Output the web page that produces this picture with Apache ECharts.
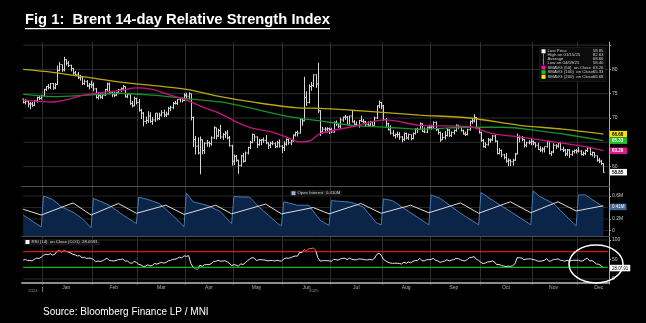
<!DOCTYPE html>
<html><head><meta charset="utf-8">
<script src="https://cdn.jsdelivr.net/npm/echarts@6/dist/echarts.min.js"></script>
<style>html,body{margin:0;padding:0;background:#000;}#c{width:646px;height:323px;}</style>
</head><body><div id="c"></div>
<script>
// ---------------- DATA ----------------
const startDate = '2024-12-17';
const endDate = '2025-12-18';          // two empty trailing slots
const holidays = ['2024-12-25','2024-12-26','2025-01-01','2025-04-18'];
const monthNames = ['Jan','Feb','Mar','Apr','May','Jun','Jul','Aug','Sep','Oct','Nov','Dec'];

const openP = [
73.9,73.2,73.4,72.9,72.9,72.6,73.6,74.2,74.0,
74.6,75.9,76.5,76.3,77.1,76.2,76.9,79.8,81.0,79.9,82.0,81.3,80.8,80.2,79.3,79.0,78.3,78.5,77.1,77.5,76.6,76.9,
76.8,76.0,74.2,74.6,74.3,74.7,75.9,77.0,75.2,75.0,74.7,75.2,75.8,76.0,76.5,74.4,74.8,73.0,72.5,74.0,
73.2,71.6,71.0,69.3,69.5,70.4,69.3,69.6,71.0,69.9,70.6,71.1,70.6,70.8,72.0,72.2,73.0,73.0,73.8,74.0,73.6,
74.7,74.5,75.0,70.1,65.6,64.2,62.8,65.5,63.3,64.8,64.9,64.7,65.9,68.0,66.3,67.4,66.1,66.6,66.9,65.9,64.3,
61.1,62.1,61.3,60.2,62.2,61.1,62.8,63.9,65.0,66.6,66.1,64.5,65.4,65.5,65.4,64.9,64.4,64.8,64.7,64.1,64.9,64.2,
63.9,64.6,65.6,64.9,65.3,66.5,67.0,66.9,69.8,69.4,74.2,73.2,76.5,76.7,78.9,77.0,71.5,67.1,67.7,67.7,67.8,
67.6,67.1,69.1,68.8,68.3,69.6,70.2,70.2,68.6,70.4,69.2,68.7,68.5,69.5,69.3,69.2,68.6,68.5,69.2,68.4,70.0,72.5,73.2,
72.5,69.7,68.8,67.6,66.9,66.4,66.6,66.6,66.1,65.6,66.8,65.9,66.6,65.8,66.8,67.7,67.7,68.8,67.2,67.1,68.1,
68.1,68.2,69.1,67.6,67.0,65.5,66.0,66.4,67.5,66.4,67.0,67.4,68.5,68.2,67.4,66.7,66.6,67.6,69.3,69.4,70.1,68.0,
67.0,65.4,64.1,64.5,65.5,65.5,66.3,65.2,62.7,63.3,62.4,61.9,61.1,61.3,61.0,61.3,62.6,66.0,65.9,65.6,64.4,64.9,65.0,
65.1,64.9,64.4,63.5,63.4,63.6,64.1,65.2,62.7,63.0,64.4,64.2,64.9,63.5,63.4,62.6,63.4,62.5,63.1,63.3,
63.2,63.2,62.5,62.7,63.3,63.8,62.5,62.9,62.2,61.3,61.1,60.6];
const highP = [
74.0,73.9,73.6,73.3,73.3,73.7,74.4,74.6,74.8,
76.0,76.6,77.0,77.2,77.2,77.2,80.8,81.5,81.0,82.6,82.1,81.7,81.0,80.3,79.7,79.5,78.9,78.6,77.9,77.8,77.2,77.7,
77.3,76.2,75.3,75.1,75.1,76.0,77.3,77.3,75.6,75.4,75.4,76.0,76.3,76.8,76.5,75.1,74.8,73.5,74.4,74.2,
73.9,71.9,71.2,70.3,71.4,71.2,70.2,71.0,71.0,71.1,71.6,71.7,71.3,72.3,72.5,73.3,73.5,73.9,74.2,74.2,75.1,
75.2,75.3,75.0,70.3,66.3,66.0,66.2,65.6,65.0,65.5,65.2,66.2,68.3,68.0,67.8,68.6,66.9,67.3,67.5,66.3,64.5,
62.5,62.4,61.4,62.4,62.8,63.1,64.1,65.3,66.8,66.6,66.2,65.7,65.7,66.0,66.5,65.0,65.1,65.3,65.0,65.3,65.6,64.4,
65.2,65.8,65.8,65.6,66.6,67.2,67.4,70.0,70.0,78.5,75.5,76.9,77.4,79.0,79.0,81.4,71.6,68.2,68.1,68.1,68.0,
68.0,69.3,69.5,69.0,70.1,70.3,70.6,70.4,70.5,71.5,69.6,69.3,69.6,70.5,69.8,69.4,69.3,69.4,69.4,70.3,72.6,73.6,73.3,
72.7,70.0,69.0,68.5,67.5,66.8,67.2,67.1,66.3,67.0,67.0,66.8,66.6,67.0,67.9,68.0,69.1,68.9,68.1,68.2,68.6,
68.6,69.3,69.3,67.9,67.2,66.9,67.3,67.9,67.7,67.2,67.6,68.7,68.6,68.3,67.6,67.2,67.8,69.5,69.8,70.8,70.2,68.1,
67.2,65.7,65.0,65.9,65.8,66.5,66.6,65.4,63.8,63.5,62.6,62.8,61.7,61.5,61.6,62.8,66.8,66.4,66.3,65.7,65.1,65.4,65.7,
65.4,65.0,64.9,64.2,64.0,64.1,65.3,65.3,63.2,64.8,64.6,65.0,65.1,64.1,63.6,63.6,63.6,63.3,63.5,63.6,
64.0,63.4,63.1,63.5,64.1,63.9,63.1,63.0,62.3,61.8,61.4,60.7];
const lowP = [
73.0,72.8,72.2,71.8,72.3,72.5,73.2,73.7,73.8,
74.4,75.6,75.9,75.9,75.8,75.9,76.8,79.6,79.5,79.6,80.8,80.5,79.6,78.9,78.6,78.0,77.7,76.8,76.8,76.4,75.9,76.2,
75.5,74.0,73.8,74.0,73.9,74.5,75.5,74.9,74.3,74.3,74.5,74.9,75.4,75.7,74.2,74.1,72.7,72.2,72.4,72.8,
71.3,69.8,68.3,68.8,69.0,69.0,68.6,69.2,69.5,69.6,70.3,70.2,70.2,70.6,71.4,71.8,72.8,72.7,73.2,73.2,73.5,
74.1,73.8,69.5,64.0,62.5,62.5,58.4,62.5,62.6,64.1,64.0,64.3,65.7,65.6,66.1,65.7,65.5,65.9,65.6,64.1,60.2,
60.3,61.0,58.5,60.0,60.8,61.0,62.5,63.6,64.8,65.2,63.8,64.3,64.4,64.9,64.6,63.6,63.8,64.4,63.8,63.9,63.9,62.8,
63.2,64.3,64.5,64.4,65.1,66.2,66.2,66.8,68.4,69.4,72.5,73.0,75.6,76.4,76.2,71.0,66.3,66.8,66.9,67.0,66.7,
66.9,67.0,68.4,67.9,67.8,69.2,69.6,68.5,68.5,69.1,68.4,68.3,68.0,69.2,68.9,68.2,68.4,68.4,68.4,68.4,69.8,72.0,71.8,
69.4,68.0,67.4,66.6,66.2,65.8,66.0,65.5,65.0,65.3,65.6,65.5,65.4,65.6,66.6,66.9,67.6,67.1,66.9,66.9,67.7,
67.6,67.9,67.3,66.6,65.1,65.5,65.6,66.2,66.1,66.1,66.6,67.2,67.7,67.2,66.6,66.3,66.4,67.4,68.8,69.1,67.8,66.8,
65.1,63.9,63.8,64.3,64.9,65.3,65.0,62.5,62.5,61.9,61.5,60.8,60.1,60.1,60.2,61.2,62.5,65.0,65.2,63.9,64.0,64.6,64.4,
64.4,63.9,63.4,63.0,62.9,62.9,63.9,62.5,62.2,62.8,63.6,63.9,63.3,63.0,62.1,62.2,61.8,62.2,62.7,62.7,
62.9,62.3,62.2,62.4,63.0,62.3,62.1,61.8,61.0,60.7,60.3,58.7];
const closeP = [
73.2,73.4,72.9,72.9,72.6,73.6,74.2,74.0,74.6,
75.9,76.5,76.3,77.1,76.2,76.9,79.8,81.0,79.9,82.0,81.3,80.8,80.2,79.3,79.0,78.3,78.5,77.1,77.5,76.6,76.9,76.8,
76.0,74.2,74.6,74.3,74.7,75.9,77.0,75.2,75.0,74.7,75.2,75.8,76.0,76.5,74.4,74.8,73.0,72.5,74.0,73.2,
71.6,71.0,69.3,69.5,70.4,69.3,69.6,71.0,69.9,70.6,71.1,70.6,70.8,72.0,72.2,73.0,73.0,73.8,74.0,73.6,74.7,
74.5,75.0,70.1,65.6,64.2,62.8,65.5,63.3,64.8,64.9,64.7,65.9,68.0,66.3,67.4,66.1,66.6,66.9,65.9,64.3,61.1,
62.1,61.3,60.2,62.2,61.1,62.8,63.9,65.0,66.6,66.1,64.5,65.4,65.5,65.4,64.9,64.4,64.8,64.7,64.1,64.9,64.2,63.9,
64.6,65.6,64.9,65.3,66.5,67.0,66.9,69.8,69.4,74.2,73.2,76.5,76.7,78.9,77.0,71.5,67.1,67.7,67.7,67.8,67.6,
67.1,69.1,68.8,68.3,69.6,70.2,70.2,68.6,70.4,69.2,68.7,68.5,69.5,69.3,69.2,68.6,68.5,69.2,68.4,70.0,72.5,73.2,72.5,
69.7,68.8,67.6,66.9,66.4,66.6,66.6,66.1,65.6,66.8,65.9,66.6,65.8,66.8,67.7,67.7,68.8,67.2,67.1,68.1,68.1,
68.2,69.1,67.6,67.0,65.5,66.0,66.4,67.5,66.4,67.0,67.4,68.5,68.2,67.4,66.7,66.6,67.6,69.3,69.4,70.1,68.0,67.0,
65.4,64.1,64.5,65.5,65.5,66.3,65.2,62.7,63.3,62.4,61.9,61.1,61.3,61.0,61.3,62.6,66.0,65.9,65.6,64.4,64.9,65.0,65.1,
64.9,64.4,63.5,63.4,63.6,64.1,65.2,62.7,63.0,64.4,64.2,64.9,63.5,63.4,62.6,63.4,62.5,63.1,63.3,63.2,
63.2,62.5,62.7,63.3,63.8,62.5,62.9,62.2,61.3,61.1,60.6,58.85];

const rsi14 = [
48.7,50.0,47.5,47.5,46.5,50.5,53.5,52.5,56.0,
61.0,63.5,62.5,65.0,61.5,63.5,71.5,74.0,69.5,74.5,71.0,69.0,66.5,63.0,62.0,59.0,60.0,54.5,56.0,52.5,53.5,53.0,
50.0,44.5,46.0,45.0,46.5,50.0,53.5,47.5,47.0,46.0,47.5,49.5,50.0,51.5,45.5,46.5,41.5,40.0,45.0,42.5,
37.5,36.0,32.0,33.0,36.5,33.5,35.0,40.0,38.0,40.5,42.5,41.0,42.0,46.5,47.5,50.5,50.5,53.0,56.0,54.0,59.5,
58.0,60.0,40.0,30.5,26.0,24.5,35.5,32.5,36.5,37.0,36.5,39.5,45.0,45.0,48.0,45.5,46.0,47.0,44.5,40.0,34.0,
37.0,35.5,33.0,39.0,37.0,41.5,47.0,51.0,55.0,53.5,47.0,49.5,49.5,49.0,48.0,46.5,47.5,47.5,46.0,48.0,46.5,46.0,
51.0,54.0,53.0,54.5,57.0,59.0,58.5,68.5,67.5,75.5,72.5,77.5,78.0,79.5,75.0,55.0,46.0,47.0,47.0,47.0,46.5,
45.5,50.5,49.5,48.5,51.5,53.0,53.0,49.5,53.5,50.5,49.5,49.0,51.5,51.0,50.5,49.0,49.0,50.5,48.5,53.0,62.5,66.0,61.0,
50.0,46.5,43.0,41.0,40.0,40.5,40.5,39.5,38.5,43.0,40.5,43.5,41.5,45.0,47.5,47.5,53.0,47.0,46.5,49.5,49.5,
50.0,53.0,48.0,46.5,42.5,44.5,46.0,49.5,46.5,48.5,49.5,53.0,52.0,49.5,47.0,46.5,50.0,55.0,55.5,57.5,50.5,47.5,
42.5,39.5,41.0,44.0,44.0,46.5,43.5,36.5,37.5,34.5,33.5,32.0,33.0,32.5,34.0,39.0,55.0,54.5,53.5,49.5,51.0,51.5,51.5,
50.0,48.5,46.0,45.5,46.5,48.0,52.5,45.5,46.5,50.5,50.0,52.0,48.0,47.5,45.5,48.0,45.5,47.5,48.0,48.0,
48.0,46.0,46.5,51.0,53.0,46.0,47.5,43.0,38.5,37.5,34.5,28.0591];

const sma50 = [['2024-12-17',73.7],['2025-01-08',73.3],['2025-01-29',74.8],['2025-02-19',75.7],['2025-02-28',76.2],
['2025-03-11',75.9],['2025-03-21',74.7],['2025-04-01',73.7],['2025-04-10',72.3],['2025-04-23',70.9],['2025-05-02',69.2],
['2025-05-13',67.9],['2025-05-23',67.2],['2025-06-03',66.1],['2025-06-11',65.1],['2025-06-18',65.4],['2025-06-24',66.8],
['2025-07-14',68.2],['2025-08-04',69.6],['2025-08-25',68.5],['2025-09-24',68.2],['2025-10-08',66.8],['2025-10-24',66.1],
['2025-11-14',65.1],['2025-12-05',64.0],['2025-12-16',63.26]];
const sma100 = [['2024-12-17',74.9],['2025-01-08',74.4],['2025-01-29',74.7],['2025-02-19',75.1],['2025-03-11',74.7],
['2025-04-01',74.0],['2025-04-23',73.3],['2025-05-13',72.0],['2025-06-03',70.4],['2025-06-24',69.4],['2025-07-14',68.5],
['2025-08-04',68.1],['2025-08-25',67.7],['2025-09-24',68.1],['2025-10-15',68.1],['2025-11-05',67.4],['2025-11-25',66.5],
['2025-12-16',65.33]];
const sma200 = [['2024-12-17',80.0],['2025-01-08',79.4],['2025-01-29',78.4],['2025-02-19',77.4],['2025-04-01',75.9],
['2025-04-23',74.4],['2025-05-13',73.3],['2025-06-10',72.1],['2025-06-24',72.0],['2025-07-14',71.6],['2025-08-04',71.1],
['2025-08-25',70.6],['2025-09-24',70.0],['2025-10-24',68.5],['2025-11-20',67.7],['2025-12-16',66.68]];

const openInterest = [['2024-12-17',0.27],['2024-12-31',0.06],
['2025-01-02',0.60],['2025-01-08',0.54],['2025-01-14',0.41],['2025-01-21',0.32],['2025-01-27',0.21],['2025-01-31',0.05],
['2025-02-03',0.56],['2025-02-12',0.44],['2025-02-20',0.27],['2025-02-28',0.12],
['2025-03-03',0.58],['2025-03-07',0.54],['2025-03-14',0.47],['2025-03-21',0.30],['2025-03-31',0.07],
['2025-04-01',0.65],['2025-04-04',0.50],['2025-04-14',0.44],['2025-04-23',0.33],['2025-04-30',0.12],
['2025-05-01',0.59],['2025-05-12',0.58],['2025-05-16',0.41],['2025-05-29',0.10],['2025-05-30',0.09],
['2025-06-02',0.50],['2025-06-10',0.44],['2025-06-17',0.44],['2025-06-24',0.18],['2025-06-30',0.09],
['2025-07-01',0.52],['2025-07-14',0.49],['2025-07-21',0.41],['2025-07-29',0.13],['2025-07-31',0.10],
['2025-08-01',0.55],['2025-08-07',0.52],['2025-08-15',0.36],['2025-08-29',0.10],
['2025-09-01',0.62],['2025-09-05',0.56],['2025-09-18',0.30],['2025-09-30',0.10],
['2025-10-01',0.66],['2025-10-08',0.53],['2025-10-20',0.33],['2025-10-31',0.10],
['2025-11-03',0.69],['2025-11-06',0.59],['2025-11-14',0.47],['2025-11-28',0.08],
['2025-12-01',0.62],['2025-12-04',0.62],['2025-12-16',0.41]];
const secondLine = [['2024-12-17',0.37],['2024-12-31',0.27],['2025-01-21',0.48],['2025-01-31',0.27],['2025-02-18',0.47],
['2025-02-28',0.30],['2025-03-19',0.44],['2025-03-31',0.28],['2025-04-21',0.44],['2025-04-30',0.29],['2025-05-21',0.46],
['2025-05-30',0.29],['2025-06-19',0.40],['2025-06-30',0.29],['2025-07-18',0.47],['2025-07-31',0.30],['2025-08-19',0.44],
['2025-08-29',0.31],['2025-09-18',0.48],['2025-09-30',0.30],['2025-10-20',0.50],['2025-10-31',0.31],['2025-11-18',0.50],
['2025-11-28',0.34],['2025-12-16',0.43]];

const priceTickVals = [60,65,70,75,80,85];
const priceLabelVals = [60,65,70,75,80];
const oiTickVals = [0,0.2,0.4,0.6];
const rsiTickVals = [0,50,100];
const rsiGridVals = [0,100];
const rsiBands = {over:70, under:30};

const lastLabels = [
  {value:66.68, text:'66.68', bg:'#f2e400', fg:'#000'},
  {value:65.33, text:'65.33', bg:'#1fbf2a', fg:'#fff'},
  {value:63.26, text:'63.26', bg:'#e0168c', fg:'#fff'},
  {value:58.85, text:'58.85', bg:'#ffffff', fg:'#000'}];
const lastOI = {value:0.41, text:'0.41M'};
const lastRSI = {value:28.0591, text:'28.0591'};

const legendNames = ['Last Price','High on 01/15/25','Average','Low on 04/09/25','SMAVG (50)  on Close','SMAVG (100)  on Close','SMAVG (200)  on Close'];
const legendVals = ['58.85','82.63','68.66','58.40','63.26','65.33','66.68'];
const legendColors = ['#ffffff',null,null,null,'#ff00a8','#19c219','#f5f000'];

// ---------------- CATEGORIES ----------------
const dates = [];
for (let d = new Date(startDate+'T00:00:00Z'); d <= new Date(endDate+'T00:00:00Z'); d.setUTCDate(d.getUTCDate()+1)) {
  const wd = d.getUTCDay(); if (wd===0||wd===6) continue;
  const s = d.toISOString().slice(0,10);
  if (holidays.includes(s)) continue;
  dates.push(s);
}
const monthStart = new Set(), labelIdx = new Set();
let groups = [];
dates.forEach((s,i)=>{
  const m = s.slice(0,7);
  if (!groups.length || groups[groups.length-1].m!==m) groups.push({m, first:i, n:0});
  groups[groups.length-1].n++;
  if (i>0 && m!==dates[i-1].slice(0,7)) monthStart.add(i);
});
groups.slice(1).forEach(g=>{ labelIdx.add(g.first + Math.floor((Math.max(g.n,20)-1)/2)); });

const ohlc = closeP.map((c,i)=>[i, openP[i], highP[i], lowP[i], c]);

// ---------------- CHART ----------------
const chart = echarts.init(document.getElementById('c'));
const FONT = '"Liberation Sans", Arial, sans-serif';
const L = 22, R = 37;
const xAx = (g)=>({
  type:'category', gridIndex:g, data:dates, boundaryGap:true,
  axisLine:{show:true, onZero:false, lineStyle:{color: g===2?'#8c8c8c':'#4c4c4c', width: g===2?2:1}},
  axisTick:{show:g===2, interval:(i)=>monthStart.has(i), length:2, lineStyle:{color:'#999'}},
  axisLabel:{show:g===2, interval:(i)=>labelIdx.has(i), formatter:(v)=>monthNames[+v.slice(5,7)-1],
             fontSize:5, color:'#b0b0b0', margin:3, fontFamily:FONT},
  splitLine:{show:true, interval:(i)=>monthStart.has(i), lineStyle:{color:'#2f2f2f', width:1}}
});
const yMain = (g, min, max, ticks, labels, fmt)=>({
  type:'value', gridIndex:g, position:'right', min, max,
  splitLine:{show:false},
  axisLine:{show:true, lineStyle:{color:'#a8a8a8'}},
  axisTick:{show:true, length:2, customValues:ticks, lineStyle:{color:'#a8a8a8'}},
  axisLabel:{customValues:labels, fontSize:5, color:'#c8c8c8', margin:3, fontFamily:FONT, formatter:fmt}
});
const yBox = (g, min, max, vals, fmt, rich)=>({
  type:'value', gridIndex:g, position:'right', min, max,
  splitLine:{show:false}, axisLine:{show:false}, axisTick:{show:false},
  axisLabel:{customValues:vals, margin:1, formatter:fmt, rich}
});
const richPrice = {};
lastLabels.forEach((o,k)=>{ richPrice['b'+k] = {backgroundColor:o.bg, color:o.fg, fontSize:4.5, fontFamily:FONT, padding:[1,2,0.5,2], width:13, fontWeight:'bold'}; });

// horizontal reference line at a data value, drawn through the axes from first to last category
const hLine = (xi, yi, v, color, w, z)=>({
  type:'line', xAxisIndex:xi, yAxisIndex:yi, silent:true, z, showSymbol:false,
  data:[[dates[0], v],[dates[dates.length-1], v]],
  lineStyle:{color, width:w, type:'solid'}
});

const series = [
  { type:'custom', xAxisIndex:0, yAxisIndex:0, data:ohlc, z:3,
    encode:{x:0, y:[1,2,3,4]},
    renderItem:(params, api)=>{
      const i = api.value(0);
      const h = api.coord([i, api.value(2)]), l = api.coord([i, api.value(3)]);
      const o = api.coord([i, api.value(1)]), c = api.coord([i, api.value(4)]);
      const x = Math.round(h[0]) + 0.5;
      const st = {stroke:'#d6d6d6', lineWidth:1};
      return {type:'group', children:[
        {type:'line', shape:{x1:x, y1:h[1], x2:x, y2:l[1]}, style:st},
        {type:'line', shape:{x1:x-1.2, y1:o[1], x2:x, y2:o[1]}, style:st},
        {type:'line', shape:{x1:x, y1:c[1], x2:x+1.2, y2:c[1]}, style:st}
      ]};
    }},
  { type:'line', xAxisIndex:0, yAxisIndex:0, data:sma200, showSymbol:false, smooth:0.3, z:4,
    lineStyle:{color:'#b9a912', width:1.3} },
  { type:'line', xAxisIndex:0, yAxisIndex:0, data:sma100, showSymbol:false, smooth:0.3, z:4,
    lineStyle:{color:'#17922c', width:1.3} },
  { type:'line', xAxisIndex:0, yAxisIndex:0, data:sma50, showSymbol:false, smooth:0.3, z:4,
    lineStyle:{color:'#c8137f', width:1.3} },
  { type:'line', xAxisIndex:1, yAxisIndex:2, data:openInterest, showSymbol:false, z:3,
    lineStyle:{color:'#4a7bb0', width:1}, areaStyle:{color:'#0a2548', opacity:1, origin:'start'} },
  { type:'line', xAxisIndex:1, yAxisIndex:2, data:secondLine, showSymbol:false, z:4,
    lineStyle:{color:'#dcdcdc', width:1} },
  { type:'line', xAxisIndex:2, yAxisIndex:4, data:rsi14, showSymbol:false, z:4,     // index 6
    lineStyle:{width:1} }
];
priceTickVals.forEach(v=>series.push(hLine(0, 0, v, '#2f2f2f', 1, 1)));
oiTickVals.forEach(v=>series.push(hLine(1, 2, v, '#262626', 1, 1)));
rsiGridVals.forEach(v=>series.push(hLine(2, 4, v, '#2c2c2c', 1, 1)));
series.push(hLine(2, 4, rsiBands.over, '#d41a1a', 1.2, 2));
series.push(hLine(2, 4, rsiBands.under, '#14b414', 1.2, 2));

const option = {
  backgroundColor:'#000',
  animation:false,
  grid:[
    {left:L, right:R, top:42, height:144},
    {left:L, right:R, top:187, height:49},
    {left:L, right:R, top:237, height:45.5}
  ],
  xAxis:[xAx(0), xAx(1), xAx(2)],
  yAxis:[
    yMain(0, 56, 85.65, priceTickVals, priceLabelVals, (v)=>String(v)),
    yBox(0, 56, 85.65, lastLabels.map(o=>o.value), (v)=>{ const k=lastLabels.findIndex(o=>Math.abs(o.value-v)<1e-6); return '{b'+k+'|'+lastLabels[k].text+'}'; }, richPrice),
    yMain(1, -0.095, 0.757, oiTickVals, oiTickVals, (v)=> v===0?'0':v.toFixed(1)+'M'),
    yBox(1, -0.095, 0.757, [lastOI.value], ()=> '{b|'+lastOI.text+'}', {b:{backgroundColor:'#3f6590', color:'#fff', fontSize:4.5, fontFamily:FONT, padding:[1,2,0.5,2]}}),
    yMain(2, -9, 107.7, rsiTickVals, rsiTickVals, (v)=>String(v)),
    yBox(2, -9, 107.7, [lastRSI.value], ()=> '{b|'+lastRSI.text+'}', {b:{backgroundColor:'#ffffff', color:'#000', fontSize:4.5, fontFamily:FONT, padding:[1,2,0.5,2]}})
  ],
  visualMap:[
    {show:false, type:'piecewise', seriesIndex:6, dimension:1,
     pieces:[{gt:rsiBands.over, color:'#ff5a6e'},{lt:rsiBands.under, color:'#3cdc3c'},{gte:rsiBands.under, lte:rsiBands.over, color:'#e6e6e6'}]}
  ],
  series
};

// ---------- text / annotation overlays ----------
const g = [];
g.push({type:'text', left:25, top:12, style:{text:'Fig 1:  Brent 14-day Relative Strength Index', fill:'#fff', font:'bold 14.75px '+FONT}});
g.push({type:'rect', shape:{x:25, y:28, width:305, height:1.2}, style:{fill:'#fff'}});
g.push({type:'text', left:43, top:307, style:{text:'Source: Bloomberg Finance LP / MNI', fill:'#fff', font:'10px '+FONT}});
// price legend box
const rowY = [51.3,55.3,59.1,62.9,67.6,72.2,76.8];
g.push({type:'rect', shape:{x:539.5, y:47.5, width:66, height:34}, style:{fill:'#0c0c0c', stroke:'#262626', lineWidth:0.5}, z:50});
legendNames.forEach((n,i)=>{
  const y = rowY[i];
  if (legendColors[i]) g.push({type:'rect', shape:{x:541.5, y:y-2, width:4, height:4}, style:{fill:legendColors[i]}, z:51});
  else g.push({type:'rect', shape:{x:543, y:y-1.8, width:0.8, height:3.6}, style:{fill:'#aaa'}, z:51});
  g.push({type:'text', x:547.5, y:y, style:{text:n, fill:'#d0d0d0', font:'4.3px '+FONT, textVerticalAlign:'middle'}, z:51});
  g.push({type:'text', x:603.5, y:y, style:{text:legendVals[i], fill:'#d0d0d0', font:'4.3px '+FONT, textAlign:'right', textVerticalAlign:'middle'}, z:51});
});
// OI legend
g.push({type:'rect', shape:{x:290, y:190, width:52, height:6.5}, style:{fill:'#151515'}, z:50});
g.push({type:'rect', shape:{x:291.5, y:191.2, width:4, height:4}, style:{fill:'#9bb4d2'}, z:51});
g.push({type:'text', x:297.5, y:193.3, style:{text:'Open Interest  0.410M', fill:'#cfcfcf', font:'4.3px '+FONT, textVerticalAlign:'middle'}, z:51});
// RSI label
g.push({type:'rect', shape:{x:24, y:238.7, width:76, height:6.5}, style:{fill:'#161616'}, z:50});
g.push({type:'rect', shape:{x:25.5, y:240, width:4, height:4}, style:{fill:'#ffffff'}, z:51});
g.push({type:'text', x:31.5, y:242, style:{text:'RSI (14)  on Close (CO1)  28.0591', fill:'#d6d6d6', font:'4.3px '+FONT, textVerticalAlign:'middle'}, z:51});
// year labels
g.push({type:'text', x:28, y:290.5, style:{text:'2024', fill:'#909090', font:'4.3px '+FONT, textVerticalAlign:'middle'}});
g.push({type:'rect', shape:{x:42, y:287, width:0.8, height:5}, style:{fill:'#909090'}});
g.push({type:'text', x:309, y:290.5, style:{text:'2025', fill:'#909090', font:'4.3px '+FONT, textVerticalAlign:'middle'}});
// hand-drawn circle annotation
g.push({type:'ellipse', shape:{cx:596, cy:264, rx:27, ry:19}, style:{fill:null, stroke:'#ffffff', lineWidth:1.5}, z:60});
option.graphic = {elements:g};

chart.setOption(option);
</script>
</body></html>
